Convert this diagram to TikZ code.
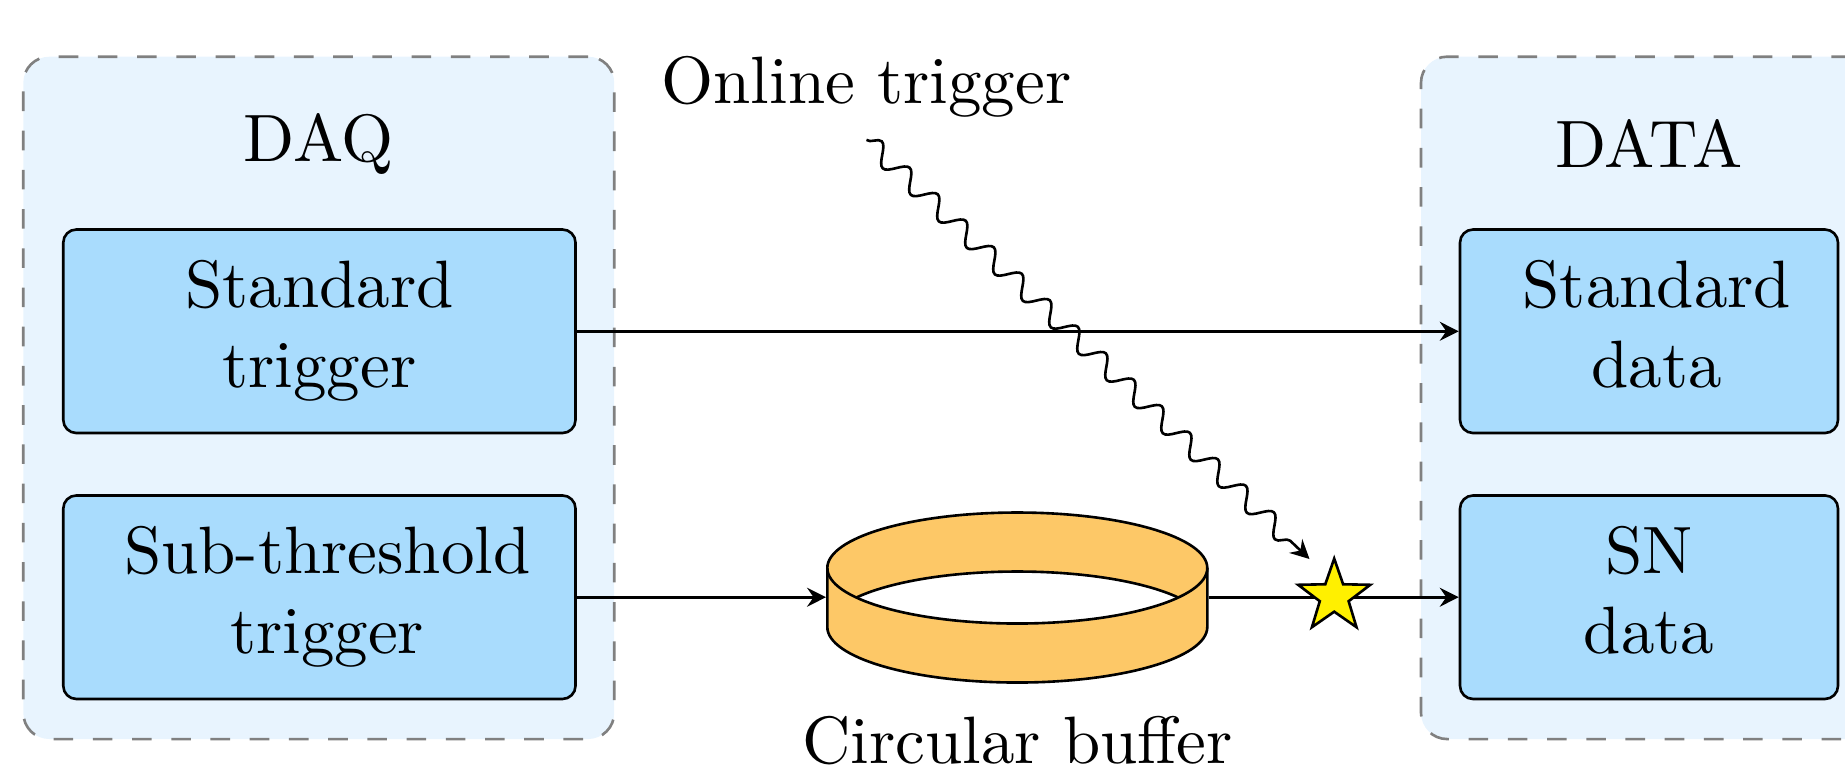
\documentclass[tikz,border=0pt]{standalone}
\usetikzlibrary{arrows.meta,shapes.geometric,decorations.pathmorphing}
\definecolor{outerblue}{RGB}{232,244,254}
\definecolor{innerblue}{RGB}{169,220,253}
\definecolor{bufcol}{RGB}{253,200,103}
\definecolor{staryellow}{RGB}{255,240,0}
\begin{document}
\begin{tikzpicture}[x=0.153pt,y=0.153pt,
  font=\fontsize{10.25pt}{12.2pt}\selectfont,
  outerbox/.style={draw=gray, dashed, fill=outerblue, rounded corners=4pt, inner sep=0pt, minimum height=104.4pt},
  innerbox/.style={draw, fill=innerblue, rounded corners=2pt, inner sep=0pt, minimum width=#1, minimum height=31.14pt, align=center},
  title/.style={inner sep=0pt},
  arr/.style={-{Stealth[length=2.9pt,width=2.9pt,inset=1pt]}},
  wavy/.style={arr, decorate, decoration={snake, amplitude=1.45pt, segment length=5.9pt, post length=2.5pt}}]
\useasboundingbox (0,0) rectangle (1845,764);
\clip (0,0) rectangle (1845,764);
% outer groups
\node[outerbox, minimum width=90.41pt] (daq) at (318.75,366.15) {};
\node[outerbox, minimum width=69.77pt] (datagrp) at (1649,366.15) {};
\node[title] (daqt) at (318.75,620.5) {DAQ};
\node[title] (datat) at (1649,620.5) {DATA};
% inner boxes
\node[innerbox=78.37pt] (std) at (319.4,432.75) {\strut Standard\\\strut trigger};
\node[innerbox=78.37pt] (sub) at (319.4,166.8) {\strut\hspace*{2.4pt}Sub-threshold\\\strut\hspace*{2.4pt}trigger};
\node[innerbox=57.83pt] (stdd) at (1649,432.75) {\strut\hspace*{2.4pt}Standard\\\strut\hspace*{2.4pt}data};
\node[innerbox=57.83pt] (snd) at (1649,166.8) {\strut SN\\\strut data};
% buffer anchor node
\node[inner sep=0pt, minimum width=58.14pt, minimum height=26pt] (buf) at (1017.3,166.8) {};
% arrows
\draw[arr] (std.east) -- (stdd.west);
\draw[arr] (sub.east) -- (buf.west);
\draw[arr] (buf.east) -- (snd.west);
% circular buffer
\fill[bufcol] (827.3,196) -- (827.3,137) arc[start angle=180,end angle=360,x radius=190,y radius=55.5] -- (1207.3,196) arc[start angle=0,end angle=180,x radius=190,y radius=55.5] -- cycle;
\begin{scope}
  \clip (1017.3,196) ellipse[x radius=190,y radius=55.5];
  \fill[white] (1017.3,137) ellipse[x radius=190,y radius=55.5];
  \draw (1017.3,137) ellipse[x radius=190,y radius=55.5];
\end{scope}
\draw (827.3,196) -- (827.3,137) arc[start angle=180,end angle=360,x radius=190,y radius=55.5] -- (1207.3,196);
\draw (1017.3,196) ellipse[x radius=190,y radius=55.5];
\node[anchor=base] (bufl) at (1017.5,1) {Circular buffer};
% online trigger
\node[anchor=base] (online) at (866.5,661) {Online trigger};
\coordinate (hit) at (1309.5,205);
\draw[wavy] (online.south) -- (hit);
% star
\node[star, star points=5, star point ratio=2.5, draw, fill=staryellow, minimum size=11.6pt, inner sep=0pt] (st) at (1334.2,167.5) {};
\end{tikzpicture}
\end{document}
